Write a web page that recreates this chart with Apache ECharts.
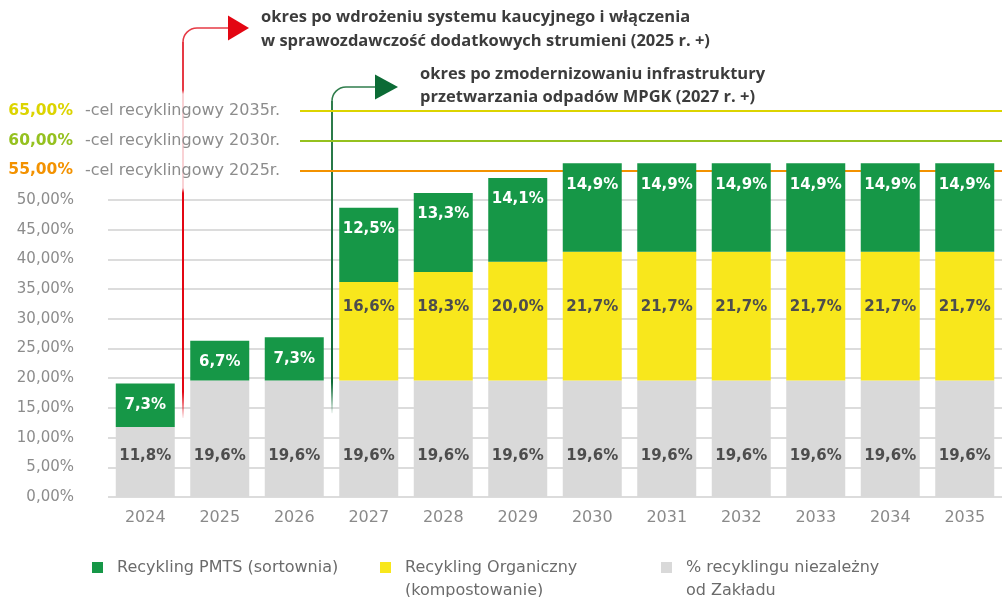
<!DOCTYPE html>
<html>
<head>
<meta charset="utf-8">
<script src="https://cdn.jsdelivr.net/npm/echarts@6/dist/echarts.min.js"></script>
<style>
  html, body { margin: 0; padding: 0; background: #fff; }
  #main { width: 1002px; height: 597px; }
</style>
</head>
<body>
<div id="main"></div>
<script>
// lata
var years = ['2024', '2025', '2026', '2027', '2028', '2029', '2030', '2031', '2032', '2033', '2034', '2035'];
// % recyklingu niezależny od Zakładu
var baseShare = [11.8, 19.6, 19.6, 19.6, 19.6, 19.6, 19.6, 19.6, 19.6, 19.6, 19.6, 19.6];
// Recykling Organiczny (kompostowanie)
var organicShare = [0, 0, 0, 16.6, 18.3, 20.0, 21.7, 21.7, 21.7, 21.7, 21.7, 21.7];
// Recykling PMTS (sortownia)
var pmtsShare = [7.3, 6.7, 7.3, 12.5, 13.3, 14.1, 14.9, 14.9, 14.9, 14.9, 14.9, 14.9];
// cele recyklingowe
var targetValues = [65, 60, 55];
var targetYears = ['2035', '2030', '2025'];

var FONT = '"DejaVu Sans", sans-serif';
var TITLE_FONT = '"Open Sans", "Noto Sans", sans-serif';
var targetColors = ['#dcd400', '#95c11f', '#f39200'];

function pct1(v) {
    return v.toFixed(1).replace('.', ',') + '%';
}

var myChart = echarts.init(document.getElementById('main'));

var targetLines = targetValues.map(function (v, i) {
    return [
        {
            name: targetYears[i],
            coord: [0, v],
            x: 300,
            lineStyle: { color: targetColors[i], width: 2, type: 'solid' },
            label: {
                show: true,
                position: 'start',
                distance: 20,
                formatter: '{v|' + v.toFixed(2).replace('.', ',') + '%}{t|-cel recyklingowy ' + targetYears[i] + 'r.}',
                rich: {
                    v: { color: targetColors[i], fontWeight: 'bold', fontSize: 15.5, fontFamily: FONT, padding: [0, 12, 0, 0] },
                    t: { color: '#8c8c8c', fontSize: 16, fontFamily: FONT }
                }
            }
        },
        { coord: [years.length - 1, v], x: 1002 }
    ];
});

var barLabel = {
    show: true,
    fontSize: 15,
    fontWeight: 'bold',
    fontFamily: FONT,
    formatter: function (p) { return p.value ? pct1(p.value) : ''; }
};

var legendText = {
    'Recykling PMTS (sortownia)': 'Recykling PMTS (sortownia)',
    'Recykling Organiczny (kompostowanie)': '\nRecykling Organiczny\n(kompostowanie)',
    '% recyklingu niezależny od Zakładu': '\n% recyklingu niezależny\nod Zakładu'
};

function makeLegend(name, left, top) {
    return {
        data: [name],
        left: left,
        top: top,
        padding: 0,
        icon: 'rect',
        itemWidth: 11,
        itemHeight: 11,
        selectedMode: false,
        formatter: function (n) { return legendText[n]; },
        textStyle: {
            color: '#6b6b6b',
            fontSize: 16,
            fontFamily: FONT,
            lineHeight: 23,
            padding: [0, 0, 0, 9]
        }
    };
}

var option = {
    animation: false,
    grid: { left: 108, right: -5, top: 111, bottom: 100 },
    legend: [
        makeLegend('Recykling PMTS (sortownia)', 92, 556),
        makeLegend('Recykling Organiczny (kompostowanie)', 380, 533),
        makeLegend('% recyklingu niezależny od Zakładu', 661, 533)
    ],
    xAxis: {
        type: 'category',
        data: years,
        axisLine: { show: false },
        axisTick: { show: false },
        axisLabel: { color: '#8a8a8a', fontSize: 16, fontFamily: FONT, margin: 13 }
    },
    yAxis: {
        type: 'value',
        min: 0,
        max: 65,
        interval: 5,
        axisLabel: {
            color: '#8c8c8c',
            fontSize: 15,
            fontFamily: FONT,
            margin: 34,
            formatter: function (v) { return v > 50 ? '' : v.toFixed(2).replace('.', ',') + '%'; }
        },
        splitLine: {
            lineStyle: {
                width: 2,
                color: ['#dcdcdc', '#dcdcdc', '#dcdcdc', '#dcdcdc', '#dcdcdc', '#dcdcdc',
                        '#dcdcdc', '#dcdcdc', '#dcdcdc', '#dcdcdc', '#dcdcdc',
                        'rgba(0,0,0,0)', 'rgba(0,0,0,0)', 'rgba(0,0,0,0)']
            }
        }
    },
    series: [
        {
            name: '% recyklingu niezależny od Zakładu',
            type: 'bar',
            stack: 'recykling',
            barWidth: 59,
            data: baseShare,
            itemStyle: { color: '#d9d9d9' },
            label: Object.assign({}, barLabel, { position: 'insideBottom', distance: 33, color: '#4d4d4d' }),
            markLine: {
                silent: true,
                symbol: 'none',
                z: 1,
                data: targetLines
            }
        },
        {
            name: 'Recykling Organiczny (kompostowanie)',
            type: 'bar',
            stack: 'recykling',
            barWidth: 59,
            data: organicShare,
            itemStyle: { color: '#f8e71c' },
            label: Object.assign({}, barLabel, { position: 'insideBottom', distance: 66, color: '#4d4d4d' })
        },
        {
            name: 'Recykling PMTS (sortownia)',
            type: 'bar',
            stack: 'recykling',
            barWidth: 59,
            data: pmtsShare,
            itemStyle: { color: '#169747' },
            label: Object.assign({}, barLabel, { position: 'insideTop', distance: 14, color: '#ffffff' })
        }
    ]
};

myChart.setOption(option);

// strzałki z opisami okresów
var cx = function (i) { return myChart.convertToPixel({ xAxisIndex: 0 }, years[i]); };
var cy = function (v) { return myChart.convertToPixel({ yAxisIndex: 0 }, v); };

var redX = Math.round((cx(0) + cx(1)) / 2);
var greenX = Math.round((cx(2) + cx(3)) / 2);
var redTop = 28, redBottom = cy(13.3);
var greenTop = 87, greenBottom = cy(14.1);
var R = 14;

var redGrad = new echarts.graphic.LinearGradient(0, redTop + R, 0, redBottom, [
    { offset: 0, color: '#e63a45' },
    { offset: (90 - redTop - R) / (redBottom - redTop - R), color: '#e63a45' },
    { offset: (94 - redTop - R) / (redBottom - redTop - R), color: '#f9d2d5' },
    { offset: (188 - redTop - R) / (redBottom - redTop - R), color: '#f9d2d5' },
    { offset: (193 - redTop - R) / (redBottom - redTop - R), color: '#e30613' },
    { offset: 0.93, color: '#e30613' },
    { offset: 1, color: 'rgba(227,6,19,0.05)' }
], true);

var greenGrad = new echarts.graphic.LinearGradient(0, greenTop + R, 0, greenBottom, [
    { offset: 0, color: '#2f7d4c' },
    { offset: 0.9, color: '#0c6b35' },
    { offset: 1, color: 'rgba(12,107,53,0.05)' }
], true);

function arrowParts(x, top, bottom, grad, topColor, headColor, len, headLen) {
    return [
        {
            type: 'line',
            shape: { x1: x, y1: bottom, x2: x, y2: top + R },
            style: { stroke: grad, lineWidth: 2 }
        },
        {
            type: 'arc',
            shape: { cx: x + R, cy: top + R, r: R, startAngle: Math.PI, endAngle: Math.PI * 1.5, clockwise: true },
            style: { stroke: topColor, lineWidth: 1.5, fill: null }
        },
        {
            type: 'line',
            shape: { x1: x + R, y1: top, x2: x + len, y2: top },
            style: { stroke: topColor, lineWidth: 1.5 }
        },
        {
            type: 'polygon',
            shape: { points: [[x + len - 1, top - 12.5], [x + len - 1 + headLen, top], [x + len - 1, top + 12.5]] },
            style: { fill: headColor }
        }
    ];
}

var graphics = []
    .concat(arrowParts(redX, redTop, redBottom, redGrad, '#e63a45', '#e30613', 46, 21))
    .concat(arrowParts(greenX, greenTop, greenBottom, greenGrad, '#2f7d4c', '#0c6b35', 44, 23))
    .concat([
        {
            type: 'text',
            style: {
                text: 'okres po wdrożeniu systemu kaucyjnego i włączenia\nw sprawozdawczość dodatkowych strumieni (2025 r. +)',
                x: 261, y: 5,
                fill: '#3c3c3c',
                fontSize: 16.5,
                fontWeight: 'bold',
                fontFamily: TITLE_FONT,
                lineHeight: 24,
                verticalAlign: 'top'
            }
        },
        {
            type: 'text',
            style: {
                text: 'okres po zmodernizowaniu infrastruktury\nprzetwarzania odpadów MPGK (2027 r. +)',
                x: 420, y: 63,
                fill: '#3c3c3c',
                fontSize: 16.5,
                fontWeight: 'bold',
                fontFamily: TITLE_FONT,
                lineHeight: 23,
                verticalAlign: 'top'
            }
        }
    ]);

myChart.setOption({ graphic: graphics });
</script>
</body>
</html>
